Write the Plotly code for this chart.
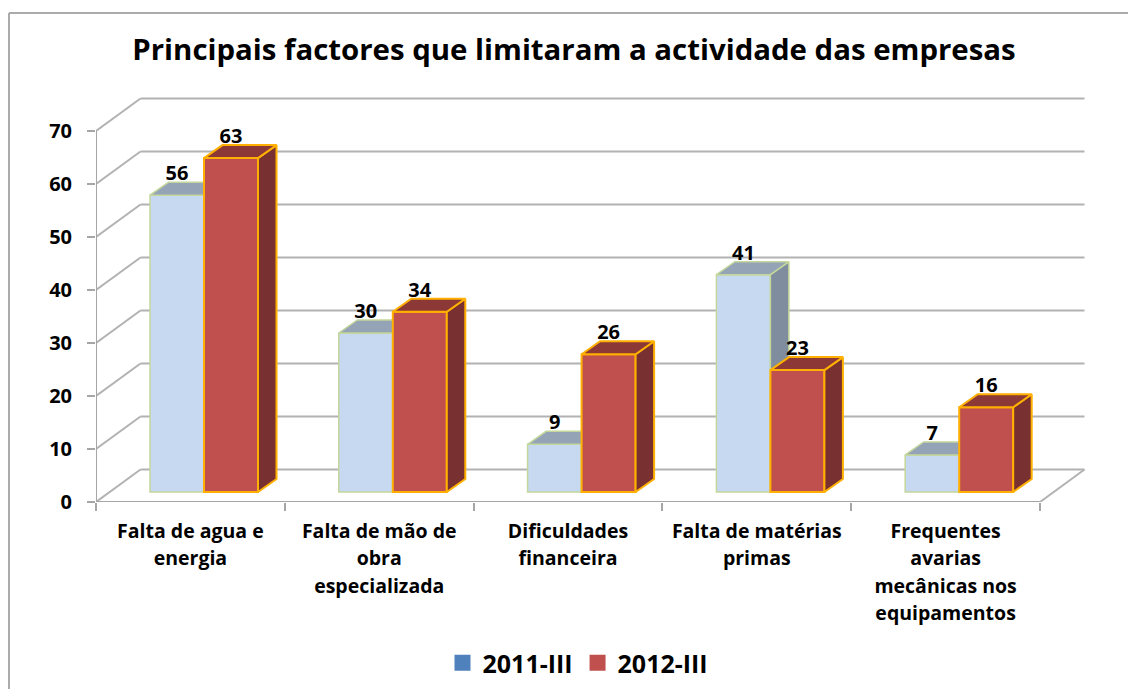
import plotly.graph_objects as go

# ---- data ----
category_lines = [
    ["Falta de agua e", "energia"],
    ["Falta de mão de", "obra", "especializada"],
    ["Dificuldades", "financeira"],
    ["Falta de matérias", "primas"],
    ["Frequentes", "avarias", "mecânicas nos", "equipamentos"],
]
series_2011 = [56, 30, 9, 41, 7]
series_2012 = [63, 34, 26, 23, 16]
y_ticks = [0, 10, 20, 30, 40, 50, 60, 70]
title_text = "Principais factores que limitaram a actividade das empresas"

# ---- page geometry and oblique projection (in pixels, converted to axis units) ----
W, H = 1128, 689
PLOT_L, PLOT_R, PLOT_T, PLOT_B = 96, 1110, 62, 502
PX_CAT, PX_UNIT = 188.8, 5.3
x_max = (PLOT_R - PLOT_L) / PX_CAT
y_max = (PLOT_B - PLOT_T) / PX_UNIT
WALL_DX, WALL_DY = 44.5 / PX_CAT, 32.5 / PX_UNIT
BAR_DX, BAR_DY = 18.5 / PX_CAT, 13.0 / PX_UNIT
BAR_BASE = 10.0 / PX_UNIT
BAR_W = 54.0 / PX_CAT
BAR_SPLIT = 108.0 / PX_CAT
LABEL_GAP = 20.0 / PX_UNIT

GRID = "#B2B2B2"
AXIS = "#A6A6A6"
FONT = "Open Sans"
n = len(category_lines)


def bar_polys(x_centers, values):
    tx, ty, sx, sy = [], [], [], []
    for xc, v in zip(x_centers, values):
        l, r, t = xc - BAR_W / 2, xc + BAR_W / 2, BAR_BASE + v
        tx += [l, l + BAR_DX, r + BAR_DX, r, l, None]
        ty += [t, t + BAR_DY, t + BAR_DY, t, t, None]
        sx += [r, r + BAR_DX, r + BAR_DX, r, r, None]
        sy += [BAR_BASE, BAR_BASE + BAR_DY, t + BAR_DY, t, BAR_BASE, None]
    return tx, ty, sx, sy


x_2011 = [i + BAR_SPLIT - BAR_W / 2 for i in range(n)]
x_2012 = [i + BAR_SPLIT + BAR_W / 2 for i in range(n)]

fig = go.Figure()


def add_series(xs, values, front, top, side, edge, edge_w, xa, ya):
    tx, ty, sx, sy = bar_polys(xs, values)
    for px, py, col in ((sx, sy, side), (tx, ty, top)):
        fig.add_trace(go.Scatter(x=px, y=py, mode="lines", fill="toself", fillcolor=col,
                                 line=dict(color=edge, width=edge_w), hoverinfo="skip",
                                 showlegend=False, xaxis=xa, yaxis=ya))
    fig.add_trace(go.Bar(x=xs, y=values, base=[BAR_BASE] * len(values), width=BAR_W,
                         marker=dict(color=front, line=dict(color=edge, width=edge_w)),
                         showlegend=False, xaxis=xa, yaxis=ya))


add_series(x_2011, series_2011, "#C6D9F1", "#95A3B6", "#7F8D9F", "#C3D69B", 1.5, "x", "y")
add_series(x_2012, series_2012, "#C0504D", "#8C3836", "#783130", "#FFB000", 2, "x2", "y2")

# value labels
fig.add_trace(go.Scatter(
    x=x_2011 + x_2012,
    y=[BAR_BASE + v + LABEL_GAP for v in series_2011 + series_2012],
    text=[str(v) for v in series_2011 + series_2012],
    mode="text", textposition="middle center",
    textfont=dict(family=FONT, size=20, color="black", weight="bold"),
    hoverinfo="skip", showlegend=False, xaxis="x2", yaxis="y2", cliponaxis=False))

# legend entries
for name, col in (("2011-III", "#4F81BD"), ("2012-III", "#C0504D")):
    fig.add_trace(go.Scatter(x=[None], y=[None], mode="markers", name=name,
                             marker=dict(symbol="square", size=16, color=col)))

# 3-D walls: gridlines on the back wall, oblique lines on the side wall and floor
shapes = []


def seg(x0, y0, x1, y1, color=GRID, width=2):
    shapes.append(dict(type="line", xref="x", yref="y", x0=x0, y0=y0, x1=x1, y1=y1,
                       layer="below", line=dict(color=color, width=width)))


for t in y_ticks:
    seg(0, t, WALL_DX, t + WALL_DY)
    seg(WALL_DX, t + WALL_DY, n + WALL_DX, t + WALL_DY)
seg(n, 0, n + WALL_DX, WALL_DY)
seg(0, 0, 0, y_ticks[-1], AXIS)
seg(0, 0, n, 0, AXIS)

# chart-area border
for x0, y0, x1, y1 in ((9 / W, 0, 9 / W, 1 - 13 / H), (9 / W, 1 - 13 / H, 1, 1 - 13 / H)):
    shapes.append(dict(type="line", xref="paper", yref="paper", x0=x0, y0=y0, x1=x1, y1=y1,
                       line=dict(color="#ABABAB", width=2)))

tick_text = ["<br>".join(f'<span style="font-size:19.5px"><b>{s}</b></span>' for s in lines)
             for lines in category_lines]

x_dom = [PLOT_L / W, PLOT_R / W]
y_dom = [1 - PLOT_B / H, 1 - PLOT_T / H]

fig.update_layout(
    width=W, height=H, margin=dict(l=0, r=0, t=0, b=0, autoexpand=False),
    paper_bgcolor="white", plot_bgcolor="rgba(0,0,0,0)",
    barmode="overlay", shapes=shapes, font=dict(family=FONT, color="black"),
    title=dict(text=f"<b>{title_text}</b>", x=574 / W, xanchor="center", y=1 - 50 / H, yanchor="middle",
               xref="paper", yref="paper", font=dict(family=FONT, size=29.4, color="black")),
    xaxis=dict(domain=x_dom, range=[0, x_max], showgrid=False, zeroline=False, showline=False,
               tickmode="array", tickvals=[i + 0.5 for i in range(n)], ticktext=tick_text,
               ticks="", tickangle=0, tickfont=dict(family=FONT, size=21, color="black"),
               ticklabelstandoff=14,
               minor=dict(tickmode="array", tickvals=list(range(n + 1)), ticks="outside",
                          ticklen=8, tickwidth=2, tickcolor=AXIS, showgrid=False)),
    yaxis=dict(domain=y_dom, range=[0, y_max], showgrid=False, zeroline=False, showline=False,
               tickmode="array", tickvals=y_ticks, ticks="outside", ticklen=8, tickwidth=2,
               ticklabelstandoff=11,
               tickcolor=AXIS, tickfont=dict(family=FONT, size=20, color="black", weight="bold")),
    xaxis2=dict(domain=x_dom, range=[0, x_max], overlaying="x", anchor="y2", visible=False),
    yaxis2=dict(domain=y_dom, range=[0, y_max], overlaying="y", anchor="x2", visible=False),
    legend=dict(orientation="h", x=578 / W, xanchor="center", y=1 - 663 / H, yanchor="middle",
                font=dict(family=FONT, size=25, color="black", weight="bold"),
                itemwidth=30, bgcolor="rgba(0,0,0,0)"),
)

fig.write_html("out.html", post_script="document.body.style.margin='0';",
               config={"displayModeBar": False})
